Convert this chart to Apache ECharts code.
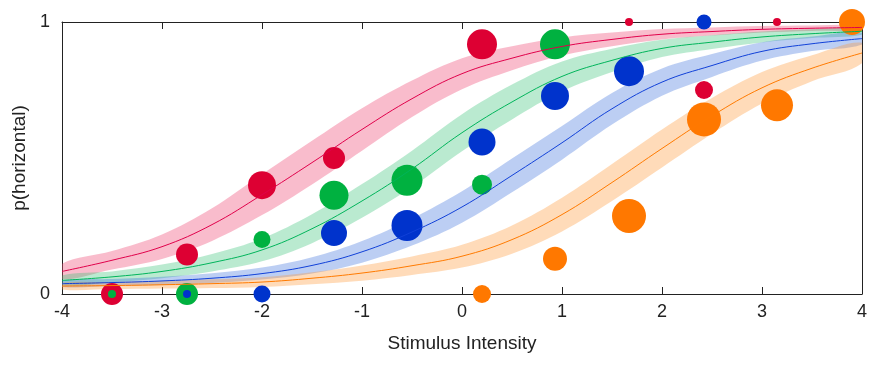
<!DOCTYPE html>
<html><head><meta charset="utf-8">
<script src="https://cdn.jsdelivr.net/npm/echarts@6/dist/echarts.min.js"></script>
<style>html,body{margin:0;padding:0;background:#fff}#c{width:890px;height:366px}</style>
</head><body><div id="c"></div>
<script>
// x grid for fitted curves
const xGrid = [-4,-3.5,-3,-2.5,-2,-1.5,-1,-0.5,0,0.5,1,1.5,2,2.5,3,3.5,4];
// fitted curves
const redCurve    = [0.083,0.124,0.174,0.255,0.365,0.483,0.605,0.718,0.81,0.867,0.91,0.936,0.955,0.965,0.973,0.977,0.98];
const greenCurve  = [0.05,0.063,0.083,0.115,0.162,0.24,0.342,0.46,0.593,0.706,0.8,0.859,0.903,0.926,0.945,0.957,0.966];
const blueCurve   = [0.038,0.042,0.048,0.058,0.075,0.105,0.155,0.228,0.32,0.436,0.556,0.681,0.779,0.84,0.892,0.92,0.939];
const orangeCurve = [0.029,0.031,0.034,0.038,0.044,0.058,0.077,0.104,0.139,0.2,0.292,0.41,0.535,0.655,0.758,0.83,0.886];
// band half widths
const redBand    = [0.028,0.034,0.045,0.06,0.075,0.08,0.078,0.067,0.057,0.044,0.033,0.025,0.019,0.015,0.012,0.01,0.009];
const greenBand  = [0.018,0.02,0.025,0.032,0.042,0.053,0.062,0.067,0.068,0.064,0.055,0.043,0.032,0.025,0.02,0.016,0.013];
const blueBand   = [0.012,0.013,0.015,0.018,0.022,0.03,0.04,0.05,0.058,0.062,0.062,0.058,0.05,0.042,0.034,0.027,0.022];
const orangeBand = [0.012,0.013,0.014,0.016,0.018,0.022,0.028,0.034,0.042,0.052,0.062,0.068,0.07,0.066,0.058,0.048,0.038];
// observed points [x, p, markerSize]
const redPts    = [[-3.5,0,22],[-2.75,0.145,22],[-2.0,0.40,28],[-1.28,0.50,22],[0.2,0.918,30],[1.67,1.0,8],[2.42,0.75,18],[3.15,1.0,8]];
const greenPts  = [[-3.5,0,8],[-2.75,0,22],[-2.0,0.2,17],[-1.28,0.363,29],[-0.55,0.418,31],[0.2,0.402,20],[0.93,0.918,30]];
const bluePts   = [[-2.75,0,8],[-2.0,0,17],[-1.28,0.224,26],[-0.55,0.252,31],[0.2,0.559,27],[0.93,0.728,28],[1.67,0.819,30],[2.42,1.0,15]];
const orangePts = [[0.2,0,18],[0.93,0.13,24],[1.67,0.287,34],[2.42,0.642,34],[3.15,0.694,32],[3.9,1.0,26]];

const conds = [
  {curve:redCurve, band:redBand, pts:redPts, color:'#dd0033', line:'#e0004a', fill:'rgba(240,80,120,0.38)'},
  {curve:greenCurve, band:greenBand, pts:greenPts, color:'#00b140', line:'#00b45a', fill:'rgba(40,190,110,0.32)'},
  {curve:blueCurve, band:blueBand, pts:bluePts, color:'#0033cc', line:'#1040d8', fill:'rgba(60,110,220,0.34)'},
  {curve:orangeCurve, band:orangeBand, pts:orangePts, color:'#ff7800', line:'#ff7a00', fill:'rgba(255,150,50,0.34)'}
];
const series = [];
conds.forEach((c)=>{
  const bandData = xGrid.map((x,k)=>[x, c.curve[k]-c.band[k], c.curve[k]+c.band[k]]);
  series.push({type:'custom', data:bandData, clip:true, silent:true,
    encode:{x:0, y:[1,2]},
    renderItem:(params, api)=>{
      if (params.dataIndex !== 0) return null;
      const up = bandData.map(d=>api.coord([d[0], d[2]]));
      const lo = bandData.map(d=>api.coord([d[0], d[1]])).reverse();
      return {type:'polygon', shape:{points:up.concat(lo), smooth:0.35}, style:{fill:c.fill, stroke:null}, silent:true};
    }});
  series.push({type:'line', data:xGrid.map((x,k)=>[x,c.curve[k]]), symbol:'none', smooth:0.4, lineStyle:{color:c.line, width:1}, silent:true});
  series.push({type:'scatter', data:c.pts, symbolSize:v=>v[2], itemStyle:{color:c.color, opacity:1}, clip:false});
});
const labelFont = {fontFamily:'Liberation Sans', fontSize:18, color:'#222'};
const chart = echarts.init(document.getElementById('c'), null, {renderer:'canvas'});
chart.setOption({
  animation:false,
  grid:{left:62, right:28, top:22, bottom:72},
  xAxis:[
    {type:'value', min:-4, max:4, interval:1, position:'bottom',
     name:'Stimulus Intensity', nameLocation:'middle', nameGap:40,
     nameTextStyle:{fontFamily:'Liberation Sans', fontSize:19, color:'#222'},
     axisLine:{onZero:false, lineStyle:{color:'#222', width:1}}, axisTick:{inside:true, length:7, lineStyle:{color:'#222'}},
     axisLabel:Object.assign({margin:9}, labelFont), splitLine:{show:false}},
    {type:'value', min:-4, max:4, interval:1, position:'top',
     axisLine:{onZero:false, lineStyle:{color:'#222', width:1}}, axisTick:{inside:true, length:7, lineStyle:{color:'#222'}},
     axisLabel:{show:false}, splitLine:{show:false}}
  ],
  yAxis:[
    {type:'value', min:0, max:1, interval:1, position:'left',
     name:'p(horizontal)', nameLocation:'middle', nameGap:30,
     nameTextStyle:{fontFamily:'Liberation Sans', fontSize:19, color:'#222'},
     axisLine:{show:true, onZero:false, lineStyle:{color:'#222', width:1}}, axisTick:{show:false},
     axisLabel:Object.assign({margin:12}, labelFont), splitLine:{show:false}},
    {type:'value', min:0, max:1, position:'right',
     axisLine:{show:true, onZero:false, lineStyle:{color:'#222', width:1}}, axisTick:{show:false},
     axisLabel:{show:false}, splitLine:{show:false}}
  ],
  series:series
});
</script></body></html>
